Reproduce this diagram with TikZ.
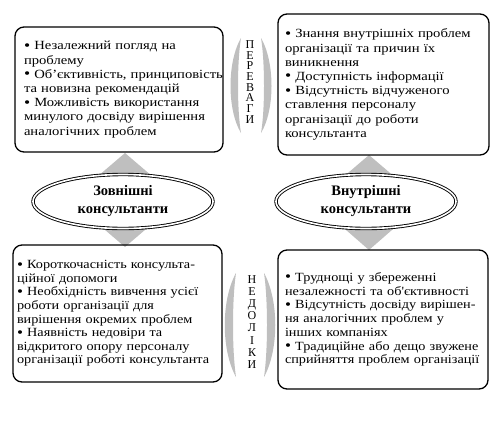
\documentclass[tikz,border=0pt]{standalone}
\usepackage{fontspec}
\setmainfont{Liberation Serif}
\newfontfamily\topfont[FakeStretch=1.17]{Liberation Serif}
\newfontfamily\botfont[FakeStretch=1.14]{Liberation Serif}
\newcommand\myline[1]{\mbox{#1}\\}
\newcommand\mylast[1]{\mbox{#1}}
\newcommand\bul{{\fontsize{15}{15}\selectfont\raisebox{-0.4pt}{\textbullet}}\ }
\usetikzlibrary{shapes.geometric}
\begin{document}
\begin{tikzpicture}[x=1pt,y=-1pt,
  txtbox/.style={draw, line width=1.3pt, rounded corners=9pt, align=left, inner ysep=4pt},
  oval/.style={ellipse, draw, line width=0.9pt, double=white, double distance=1.6pt,
    fill=white, minimum width=180pt, minimum height=54pt, align=center,
    font=\bfseries\fontsize{14.5}{18}\selectfont, inner sep=0pt},
  shadegray/.style={fill=gray!50, draw=none},
  vlabel/.style={align=center, inner sep=0pt}]
\useasboundingbox (0,0) rectangle (500,429);

% grey diamonds behind the ovals
\fill[shadegray] (125,153) -- (180,200) -- (125,247) -- (70,200) -- cycle;
\fill[shadegray] (369,155) -- (424,202) -- (369,250) -- (314,202) -- cycle;

% grey brackets around the vertical labels
\fill[shadegray] (241,38) .. controls (227,62) and (227,110) .. (241,133)
  .. controls (237,110) and (237,62) .. (241,38) -- cycle;
\fill[shadegray] (261,38) .. controls (275,62) and (275,110) .. (261,133)
  .. controls (265,110) and (265,62) .. (261,38) -- cycle;
\fill[shadegray] (236,273) .. controls (221,300) and (221,350) .. (236,377)
  .. controls (232,350) and (232,300) .. (236,273) -- cycle;
\fill[shadegray] (264,273) .. controls (279,300) and (279,350) .. (264,377)
  .. controls (268,350) and (268,300) .. (264,273) -- cycle;

% boxes
\node[txtbox, minimum width=208pt, minimum height=125pt, inner xsep=9pt, text width=190pt,
  font=\topfont\fontsize{12.5}{14.2}\selectfont]
  (tl) at (119,89.5)
  {\myline{\bul Незалежний погляд на}
   \myline{проблему}
   \myline{\bul Об’єктивність, принциповість}
   \myline{та новизна рекомендацій}
   \myline{\bul Можливість використання}
   \myline{минулого досвіду вирішення}
   \mylast{аналогічних проблем}};

\node[txtbox, minimum width=211pt, minimum height=141pt, inner xsep=7pt, text width=197pt,
  font=\topfont\fontsize{12.5}{14.2}\selectfont]
  (tr) at (383.5,84.5)
  {\myline{\bul Знання внутрішніх проблем}
   \myline{організації та причин їх}
   \myline{виникнення}
   \myline{\bul Доступність інформації}
   \myline{\bul Відсутність відчуженого}
   \myline{ставлення персоналу}
   \myline{організації до роботи}
   \mylast{консультанта}};

\node[txtbox, minimum width=209pt, minimum height=137pt, inner xsep=4pt, text width=201pt,
  font=\botfont\fontsize{12.5}{13.6}\selectfont]
  (bl) at (117.5,313.5)
  {\myline{\bul Короткочасність консульта-}
   \myline{ційної допомоги}
   \myline{\bul Необхідність вивчення усієї}
   \myline{роботи організації для}
   \myline{вирішення окремих проблем}
   \myline{\bul Наявність недовіри та}
   \myline{відкритого опору персоналу}
   \mylast{організації роботі консультанта}};

\node[txtbox, minimum width=210pt, minimum height=139pt, inner xsep=7pt, text width=196pt,
  font=\botfont\fontsize{12.5}{13.7}\selectfont]
  (br) at (383,319.5)
  {\myline{\bul Труднощі у збереженні}
   \myline{незалежності та об'єктивності}
   \myline{\bul Відсутність досвіду вирішен-}
   \myline{ня аналогічних проблем у}
   \myline{інших компаніях}
   \myline{\bul Традиційне або дещо звужене}
   \mylast{сприйняття проблем організації}};

% ovals
\node[oval] (ext) at (123,201.5) {Зовнішні\\консультанти};
\node[oval] (int) at (366,201.5) {Внутрішні\\консультанти};

% vertical labels
\node[vlabel, font=\fontsize{12}{10.7}\selectfont] (adv) at (250,82)
  {П\\Е\\Р\\Е\\В\\А\\Г\\И};
\node[vlabel, font=\fontsize{12}{12.1}\selectfont] (dis) at (252,322)
  {Н\\Е\\Д\\О\\Л\\І\\К\\И};
\end{tikzpicture}
\end{document}
